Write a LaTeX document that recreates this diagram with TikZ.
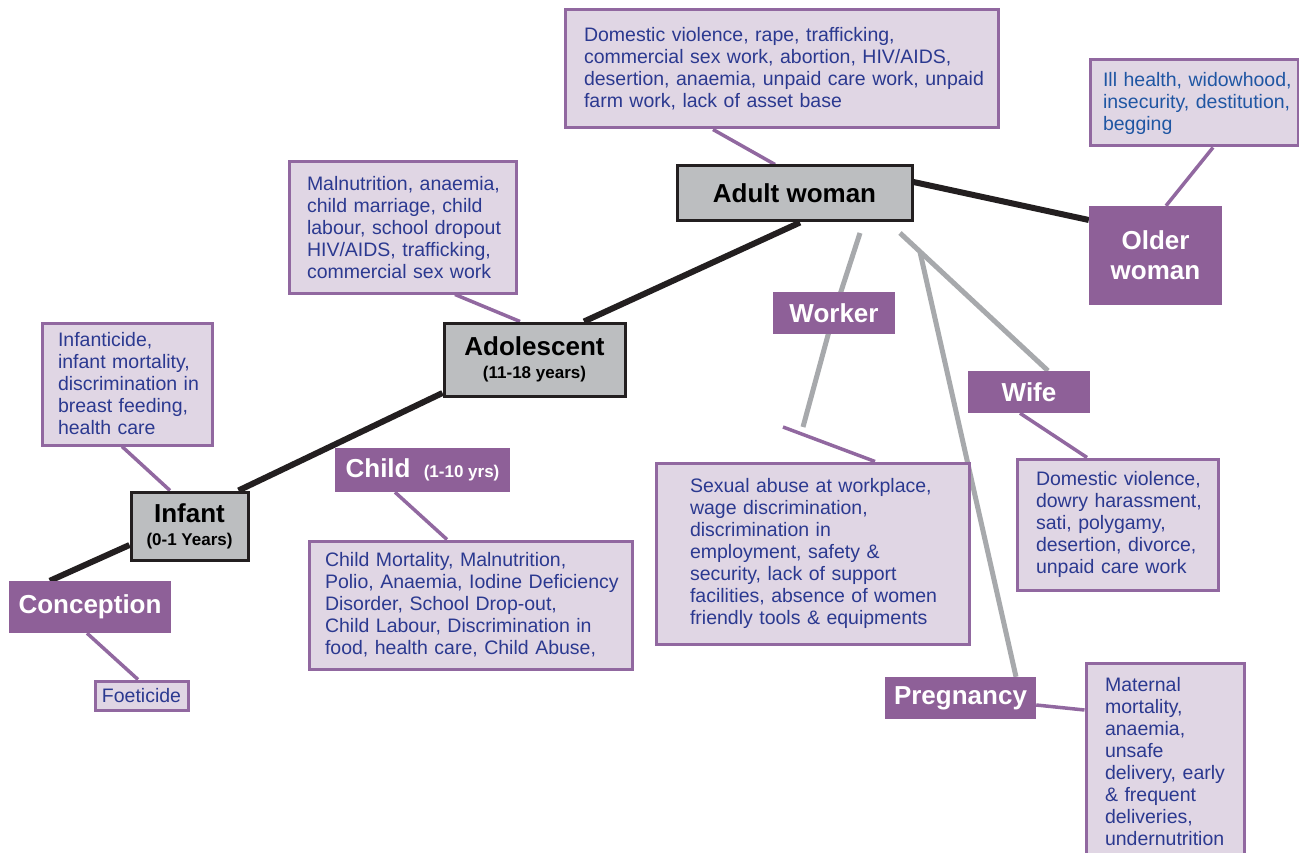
\documentclass[tikz,border=0pt]{standalone}
\usepackage{fontspec}
\setmainfont{Liberation Sans}
\usetikzlibrary{calc}
\pgfdeclarelayer{background}
\pgfsetlayers{background,main}
\definecolor{lblpurple}{HTML}{8E6098}
\definecolor{boxfill}{HTML}{E0D6E4}
\definecolor{boxline}{HTML}{9168A0}
\definecolor{txtblue}{HTML}{2B3990}
\definecolor{oldblue}{HTML}{1F56A3}
\definecolor{grayfill}{HTML}{BCBEC0}
\definecolor{darkline}{HTML}{231F20}
\definecolor{conngray}{HTML}{A7A9AC}
\newcommand{\tline}[1]{\mbox{#1}}
\newcommand{\subt}[1]{{\fontsize{17}{20}\selectfont #1}}
\begin{document}
\begin{tikzpicture}[x=1pt,y=-1pt,
  infobox/.style={draw=boxline, line width=3pt, fill=boxfill, text=txtblue, align=left, inner sep=0pt, font=\fontsize{19.5}{22}\selectfont},
  stage/.style={draw=darkline, line width=3pt, fill=grayfill, inner sep=0pt, align=center, font=\fontsize{26}{26}\selectfont\bfseries},
  role/.style={fill=lblpurple, text=white, inner sep=0pt, align=center, font=\fontsize{26}{30}\selectfont\bfseries},
  lifeline/.style={draw=darkline, line width=6pt},
  tie/.style={draw=boxline, line width=3.5pt},
  rolelink/.style={draw=conngray, line width=5pt}]
\useasboundingbox (0,0) rectangle (1299,853);
\begin{pgfonlayer}{background}
\fill[white] (0,0) rectangle (1299,853);
\end{pgfonlayer}

% information boxes
\node[infobox, minimum width=433pt, minimum height=118pt, text width=395pt] (domtext) at (781.5,69)
 {\tline{Domestic violence, rape, trafficking,}\\\tline{commercial sex work, abortion, HIV/AIDS,}\\\tline{desertion, anaemia, unpaid care work, unpaid}\\\tline{farm work, lack of asset base}};
\node[infobox, text=oldblue, minimum width=208pt, minimum height=86pt, text width=182pt] (oldtext) at (1194,103)
 {\tline{Ill health, widowhood,}\\\tline{insecurity, destitution,}\\\tline{begging}};
\node[infobox, minimum width=227pt, minimum height=131pt, text width=191pt] (maltext) at (402.5,227.5)
 {\tline{Malnutrition, anaemia,}\\\tline{child marriage, child}\\\tline{labour, school dropout}\\\tline{HIV/AIDS, trafficking,}\\\tline{commercial sex work}};
\node[infobox, minimum width=170pt, minimum height=122pt, text width=138pt] (inftext) at (127,384)
 {\tline{Infanticide,}\\\tline{infant mortality,}\\\tline{discrimination in}\\\tline{breast feeding,}\\\tline{health care}};
\node[infobox, minimum width=323pt, minimum height=128pt, text width=291pt] (childtext) at (470.5,605)
 {\tline{Child Mortality, Malnutrition,}\\\tline{Polio, Anaemia, Iodine Deficiency}\\\tline{Disorder, School Drop-out,}\\\tline{Child Labour, Discrimination in}\\\tline{food, health care, Child Abuse,}};
\node[infobox, minimum width=313pt, minimum height=181pt, text width=245pt] (worktext) at (812.5,553.5)
 {\tline{Sexual abuse at workplace,}\\\tline{wage discrimination,}\\\tline{discrimination in}\\\tline{employment, safety \&}\\\tline{security, lack of support}\\\tline{facilities, absence of women}\\\tline{friendly tools \& equipments}};
\node[infobox, minimum width=201pt, minimum height=131pt, text width=163pt] (wifetext) at (1117.5,524.5)
 {\tline{Domestic violence,}\\\tline{dowry harassment,}\\\tline{sati, polygamy,}\\\tline{desertion, divorce,}\\\tline{unpaid care work}};
\node[infobox, minimum width=158pt, minimum height=197pt, text width=120pt] (pregtext) at (1165,761.5)
 {\tline{Maternal}\\\tline{mortality,}\\\tline{anaemia,}\\\tline{unsafe}\\\tline{delivery, early}\\\tline{\& frequent}\\\tline{deliveries,}\\\tline{undernutrition}};
\node[infobox, align=center, minimum width=93pt, minimum height=29pt] (foet) at (141.5,695.5) {Foeticide};

% life stages
\node[stage, minimum width=117pt, minimum height=68pt] (infant) at (189.5,526) {Infant\\[-3pt]\subt{(0-1 Years)}};
\node[stage, minimum width=181pt, minimum height=73pt] (adol) at (534.5,359.5) {Adolescent\\[-3pt]\subt{(11-18 years)}};
\node[stage, minimum width=235pt, minimum height=55pt] (adult) at (794.5,193.5) {Adult woman};

% roles
\node[role, minimum width=162pt, minimum height=52pt] (conc) at (90,607) {Conception};
\node[role, minimum width=175pt, minimum height=44pt] (child) at (422.5,470) {Child\hspace{6pt} \subt{(1-10 yrs)}};
\node[role, minimum width=133pt, minimum height=99pt] (older) at (1155.5,255.5) {Older\\woman};
\node[role, minimum width=122pt, minimum height=42pt] (worker) at (834,313) {Worker};
\node[role, minimum width=122pt, minimum height=42pt] (wife) at (1029,392) {Wife};
\node[role, minimum width=151pt, minimum height=42pt] (preg) at (960.5,698) {Pregnancy};

% free ends
\coordinate (g1) at (860,233);
\coordinate (g2) at (803,427);
\coordinate (g3) at (900,233);
\coordinate (g4) at (920,252);
\coordinate (wk1) at (783,427);

\begin{pgfonlayer}{background}
% life line
\draw[lifeline] ($(conc.north west)+(41,0)$) -- ($(infant.west)+(0,19)$);
\draw[lifeline] ($(infant.north east)+(-11,0)$) -- ($(adol.west)+(0,33.5)$);
\draw[lifeline] ($(adol.north)+(49.5,0)$) -- ($(adult.south)+(5.5,0)$);
\draw[lifeline] ($(adult.east)+(0,-11.5)$) -- ($(older.west)+(0,-35.5)$);
% ties to information boxes
\draw[tie] ($(inftext.south)+(-5,0)$) -- ($(infant.north)+(-19.5,0)$);
\draw[tie] ($(maltext.south)+(52.5,0)$) -- ($(adol.north)+(-14.5,0)$);
\draw[tie] ($(domtext.south)+(-68.5,0)$) -- ($(adult.north)+(-19.5,0)$);
\draw[tie] ($(oldtext.south)+(19,0)$) -- ($(older.north)+(10.5,0)$);
\draw[tie] ($(conc.south)+(-3,0)$) -- ($(foet.north)+(-3.5,0)$);
\draw[tie] ($(child.south)+(-27.5,0)$) -- ($(childtext.north)+(-23.5,0)$);
\draw[tie] ($(wife.south)+(-9,0)$) -- ($(wifetext.north)+(-30.5,0)$);
\draw[tie] ($(preg.east)+(0,7)$) -- ($(pregtext.west)+(0,-51.5)$);
\draw[tie] (wk1) -- ($(worktext.north)+(62.5,0)$);
% roles of the adult woman
\draw[rolelink] (g1) -- (worker.center) -- (g2);
\draw[rolelink] (g3) -- ($(wife.north)+(19,0)$);
\draw[rolelink] (g4) -- ($(preg.north)+(55.5,0)$);
\end{pgfonlayer}
\end{tikzpicture}
\end{document}
